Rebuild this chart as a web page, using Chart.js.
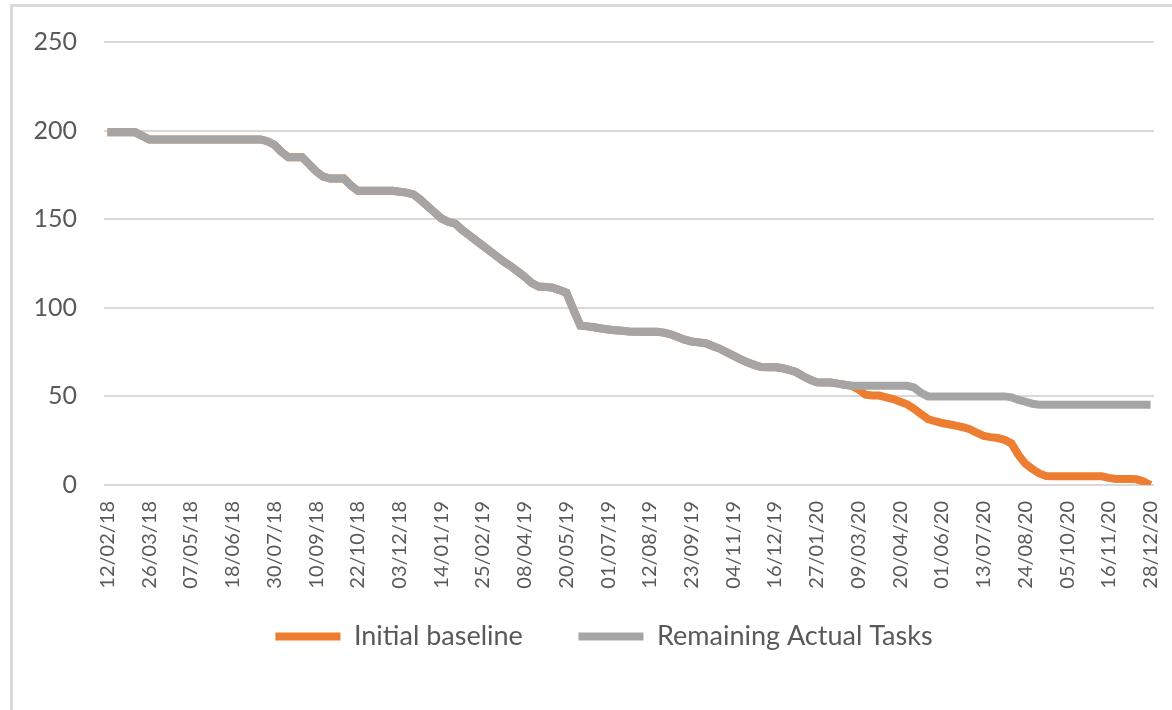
<!DOCTYPE html>
<html>
<head>
<meta charset="utf-8">
<script src="https://cdn.jsdelivr.net/npm/chart.js@4.4.0/dist/chart.umd.min.js"></script>
<style>
  html, body { margin: 0; padding: 0; background: #fff; }
  #wrap { position: relative; width: 1172px; height: 710px; }
  #frame { position: absolute; left: 10px; top: 4px; right: -4px; bottom: -4px; border: 3px solid #d9d9d9; }
  canvas { position: absolute; left: 0; top: 0; }
</style>
</head>
<body>
<div id="wrap">
  <div id="frame"></div>
  <canvas id="burndown" width="1172" height="710"></canvas>
</div>
<script>
// tick labels shown on the x axis (every 6th weekly point)
const tickLabels = ["12/02/18", "26/03/18", "07/05/18", "18/06/18", "30/07/18", "10/09/18",
  "22/10/18", "03/12/18", "14/01/19", "25/02/19", "08/04/19", "20/05/19", "01/07/19",
  "12/08/19", "23/09/19", "04/11/19", "16/12/19", "27/01/20", "09/03/20", "20/04/20",
  "01/06/20", "13/07/20", "24/08/20", "05/10/20", "16/11/20", "28/12/20"];

// weeks 0..107, both series run together here
const sharedTasks = [199, 199, 199, 199, 199, 197, 195, 195, 195, 195,
  195, 195, 195, 195, 195, 195, 195, 195, 195, 195,
  195, 195, 195, 194, 192, 188, 185, 185, 185, 181,
  177, 174, 173, 173, 173, 169, 166, 166, 166, 166,
  166, 166, 165.5, 165, 164, 161, 157.5, 154, 150.5, 148.5,
  147.5, 144, 141, 138, 135, 132, 129, 126, 123.5, 120.5,
  117.5, 114, 112, 111.8, 111.3, 110, 108.5, 99, 90, 89.5,
  89, 88.3, 87.8, 87.3, 87, 86.6, 86.5, 86.5, 86.5, 86.5,
  86, 85, 83.5, 82, 81, 80.5, 80, 78.5, 77, 75,
  73, 71, 69.3, 67.8, 66.6, 66.5, 66.5, 66, 65, 63.8,
  61.5, 59.5, 58, 57.8, 57.8, 57.2, 56.6, 56];

// weeks 108..150
const baselineTail = [54, 51, 50.5, 50.5, 49.5, 48.5, 47, 45.5, 43, 40,
  37.2, 36, 35, 34.3, 33.5, 32.6, 31.5, 29.5, 27.7, 27,
  26.5, 25.5, 23.5, 17, 12, 9, 6.5, 5, 4.9, 4.9,
  4.9, 4.9, 4.9, 4.9, 4.9, 4.9, 4, 3.4, 3.4, 3.4,
  3.2, 2, 0];

const actualTail = [56, 56, 56, 56, 56, 56, 56, 56, 55, 52,
  50, 50, 50, 50, 50, 50, 50, 50, 50, 50,
  50, 50, 49.5, 48, 47, 45.8, 45.3, 45.3, 45.3, 45.3,
  45.3, 45.3, 45.3, 45.3, 45.3, 45.3, 45.3, 45.3, 45.3, 45.3,
  45.3, 45.3, 45.3];

const initialBaseline = sharedTasks.concat(baselineTail);
const remainingActual = sharedTasks.concat(actualTail);
const weeks = initialBaseline.map((_, i) => i % 6 === 0 ? tickLabels[i / 6] : "");

const textColor = "#595959";
const gridColor = "#d9d9d9";

// legend sits a bit right of centre in the original
const nudgeLegend = {
  id: "nudgeLegend",
  afterLayout(chart) {
    chart.legend.left += 17;
    chart.legend.right += 17;
  }
};

const ctx = document.querySelector("#burndown").getContext("2d");
new Chart(ctx, {
  type: "line",
  data: {
    labels: weeks,
    datasets: [
      {
        label: "Initial baseline",
        data: initialBaseline,
        borderColor: "#ed7d31",
        backgroundColor: "#ed7d31",
        borderWidth: 8,
        pointRadius: 0,
        tension: 0,
        order: 1
      },
      {
        label: "Remaining Actual Tasks",
        data: remainingActual,
        borderColor: "#a5a5a5",
        backgroundColor: "#a5a5a5",
        borderWidth: 8,
        pointRadius: 0,
        tension: 0,
        order: 0
      }
    ]
  },
  plugins: [nudgeLegend],
  options: {
    responsive: false,
    animation: false,
    layout: { padding: { left: 20, right: 18, top: 42, bottom: 50 } },
    plugins: {
      tooltip: { enabled: false },
      legend: {
        position: "bottom",
        labels: {
          color: textColor,
          font: { family: "Lato", size: 27 },
          boxWidth: 65,
          boxHeight: 8,
          padding: 28,
          sort: (a, b) => a.datasetIndex - b.datasetIndex,
          // wider gap after the first entry, like the original
          generateLabels: (chart) =>
            Chart.defaults.plugins.legend.labels.generateLabels(chart)
              .map(item => ({
                ...item,
                lineWidth: 0,
                text: item.datasetIndex === 0 ? item.text + "    " : item.text
              }))
        }
      }
    },
    scales: {
      x: {
        offset: true,
        grid: { display: false },
        border: { display: false },
        afterFit: (scale) => {
          scale.height = 110;
          scale.paddingLeft = 0;
          scale.paddingRight = 0;
        },
        ticks: {
          autoSkip: false,
          maxRotation: 90,
          minRotation: 90,
          padding: 8,
          color: textColor,
          font: { family: "Lato", size: 20 },
          callback: (value, index) => weeks[index] || null
        }
      },
      y: {
        min: 0,
        max: 250,
        afterFit: (scale) => { scale.width = 84; },
        grid: { color: gridColor, lineWidth: 2, drawTicks: false },
        border: { display: false },
        ticks: {
          stepSize: 50,
          padding: 27,
          color: textColor,
          font: { family: "Lato", size: 25 }
        }
      }
    }
  }
});
</script>
</body>
</html>
